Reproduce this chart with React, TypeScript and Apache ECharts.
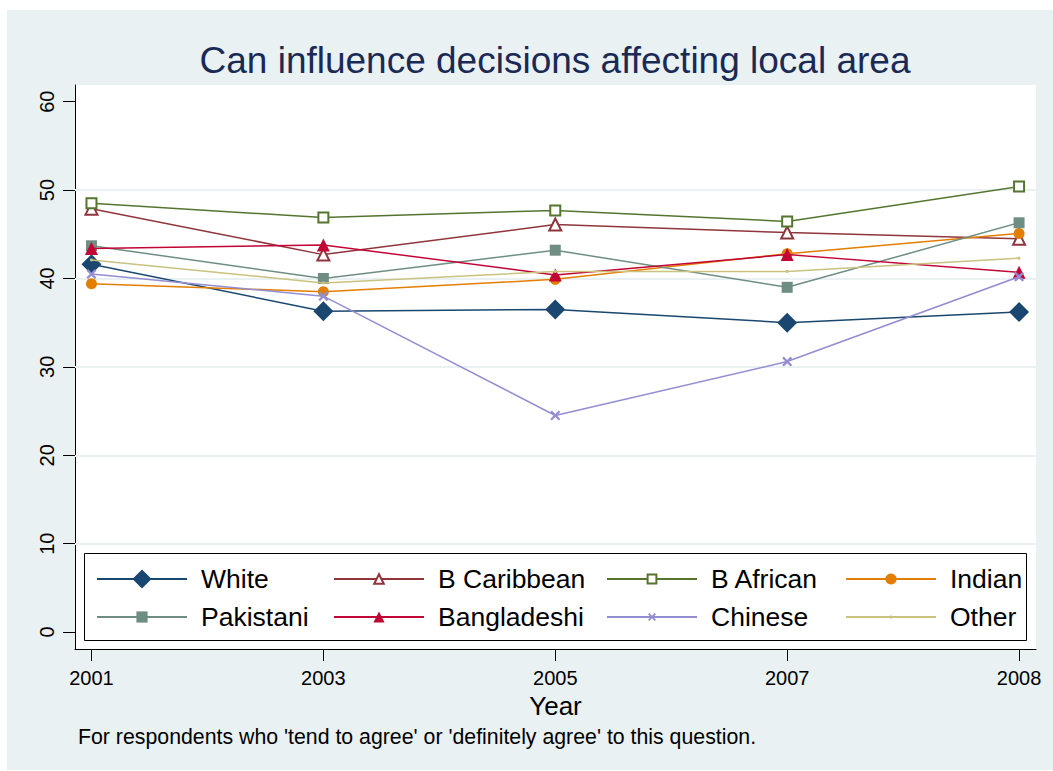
import React, { useEffect, useRef } from 'react';
import * as echarts from 'echarts';

// ---- data ----
const years = ['2001', '2003', '2005', '2007', '2008'];
const yTickValues = [0, 10, 20, 30, 40, 50, 60];
const gridValues = [10, 20, 30, 40, 50];

const white = [41.6, 36.3, 36.5, 35.0, 36.2];
const bCaribbean = [47.9, 42.7, 46.1, 45.2, 44.5];
const bAfrican = [48.5, 46.9, 47.7, 46.45, 50.4];
const indian = [39.4, 38.5, 39.9, 42.8, 45.1];
const pakistani = [43.7, 40.0, 43.2, 39.0, 46.3];
const bangladeshi = [43.4, 43.8, 40.4, 42.7, 40.7];
const chinese = [40.5, 38.0, 24.5, 30.6, 40.2];
const other = [42.1, 39.5, 40.8, 40.8, 42.3];

const FONT = '"Liberation Sans", Arial, Helvetica, sans-serif';
const X_PATH = 'path://M0,1.6L1.6,0L5,3.4L8.4,0L10,1.6L6.6,5L10,8.4L8.4,10L5,6.6L1.6,10L0,8.4L3.4,5Z';

type Def = {
  name: string;
  values: number[];
  color: string;
  symbol: string;
  size: number;
  hollow?: boolean;
  legendH: number;
};

const defs: Def[] = [
  { name: 'White', values: white, color: '#1a476f', symbol: 'diamond', size: 20, legendH: 24 },
  { name: 'B Caribbean', values: bCaribbean, color: '#90353b', symbol: 'triangle', size: 12, hollow: true, legendH: 12 },
  { name: 'B African', values: bAfrican, color: '#55752f', symbol: 'rect', size: 10, hollow: true, legendH: 11 },
  { name: 'Indian', values: indian, color: '#e37e00', symbol: 'circle', size: 11, legendH: 14 },
  { name: 'Pakistani', values: pakistani, color: '#6e8e84', symbol: 'rect', size: 11, legendH: 14 },
  { name: 'Bangladeshi', values: bangladeshi, color: '#c10534', symbol: 'triangle', size: 13, legendH: 14 },
  { name: 'Chinese', values: chinese, color: '#938dd2', symbol: X_PATH, size: 10, legendH: 10 },
  { name: 'Other', values: other, color: '#cac27e', symbol: 'circle', size: 3, legendH: 4 },
];

const legendColX = [96, 333, 606, 845];
const legendRowCenter = [579, 617];

function itemStyleFor(d: Def) {
  return d.hollow
    ? { color: '#ffffff', borderColor: d.color, borderWidth: 2 }
    : { color: d.color, borderColor: d.color, borderWidth: 0 };
}

export default function App() {
  const ref = useRef<HTMLDivElement>(null);
  useEffect(() => {
    document.body.style.margin = '0';
    const chart = echarts.init(ref.current!, null, { renderer: 'svg' });

    const series: any[] = defs.map((d, i) => {
      const s: any = {
        type: 'line',
        name: d.name,
        data: d.values.map((v, k) => [k, v]),
        symbol: d.symbol,
        symbolSize: d.size,
        showSymbol: true,
        showAllSymbol: true,
        lineStyle: { color: d.color, width: 1.5 },
        itemStyle: itemStyleFor(d),
        emphasis: { disabled: true },
        z: 2 + i * 0.01,
      };
      if (i === 0) {
        s.markLine = {
          silent: true,
          symbol: 'none',
          z: 1,
          animation: false,
          label: { show: false },
          emphasis: { disabled: true },
          lineStyle: { color: '#e9f1f3', width: 2, type: 'solid' },
          data: gridValues.map((v) => ({ yAxis: v })),
        };
      }
      return s;
    });

    const legends = defs.map((d, i) => ({
      data: [{ name: d.name, itemStyle: itemStyleFor(d) }],
      left: legendColX[i % 4],
      top: legendRowCenter[Math.floor(i / 4)] - 15,
      padding: 0,
      itemWidth: 90,
      itemHeight: d.legendH,
      selectedMode: false,
      textStyle: {
        fontSize: 26.5,
        fontFamily: FONT,
        color: '#000',
        lineHeight: 30,
        padding: [0, 0, 0, 9],
      },
    }));

    const option: any = {
      animation: false,
      backgroundColor: '#ffffff',
      textStyle: { fontFamily: FONT },
      graphic: [
        {
          type: 'rect',
          z: -10,
          silent: true,
          shape: { x: 7, y: 10, width: 1046, height: 760 },
          style: { fill: '#e9f1f3' },
        },
        {
          type: 'rect',
          z: 3,
          silent: true,
          shape: { x: 84.5, y: 553.5, width: 942, height: 87 },
          style: { fill: '#ffffff', stroke: '#000', lineWidth: 1 },
        },
        {
          type: 'text',
          x: 555,
          y: 60,
          silent: true,
          style: {
            text: 'Can influence decisions affecting local area',
            fontSize: 37,
            fontFamily: FONT,
            fill: '#1a2a55',
            align: 'center',
            verticalAlign: 'middle',
          },
        },
        {
          type: 'text',
          x: 78,
          y: 737,
          silent: true,
          style: {
            text: "For respondents who 'tend to agree' or 'definitely agree' to this question.",
            fontSize: 21.3,
            fontFamily: FONT,
            fill: '#000',
            align: 'left',
            verticalAlign: 'middle',
          },
        },
      ],
      grid: {
        left: 75,
        top: 85,
        width: 961,
        height: 564,
        show: true,
        backgroundColor: '#ffffff',
        borderWidth: 0,
        containLabel: false,
      },
      legend: legends,
      xAxis: {
        type: 'value',
        min: -0.071,
        max: 4.073,
        axisLine: { show: true, onZero: false, lineStyle: { color: '#000', width: 1 } },
        axisTick: { show: true, length: 12, customValues: [0, 1, 2, 3, 4], lineStyle: { color: '#000' } },
        axisLabel: {
          show: true,
          customValues: [0, 1, 2, 3, 4],
          formatter: (v: number) => years[Math.round(v)] ?? '',
          fontSize: 20,
          color: '#000',
          margin: 19,
          fontFamily: FONT,
        },
        splitLine: { show: false },
        name: 'Year',
        nameLocation: 'middle',
        nameGap: 37,
        nameTextStyle: { fontSize: 26, color: '#000', fontFamily: FONT },
      },
      yAxis: {
        type: 'value',
        min: -1.92,
        max: 61.89,
        axisLine: { show: true, onZero: false, lineStyle: { color: '#000', width: 1 } },
        axisTick: { show: true, length: 12, customValues: yTickValues, lineStyle: { color: '#000' } },
        axisLabel: {
          show: true,
          customValues: yTickValues,
          rotate: 90,
          fontSize: 20,
          color: '#000',
          margin: 18,
          fontFamily: FONT,
        },
        splitLine: { show: false },
      },
      series,
    };

    chart.setOption(option);
    return () => chart.dispose();
  }, []);
  return <div ref={ref} style={{ width: 1053, height: 771 }} />;
}
